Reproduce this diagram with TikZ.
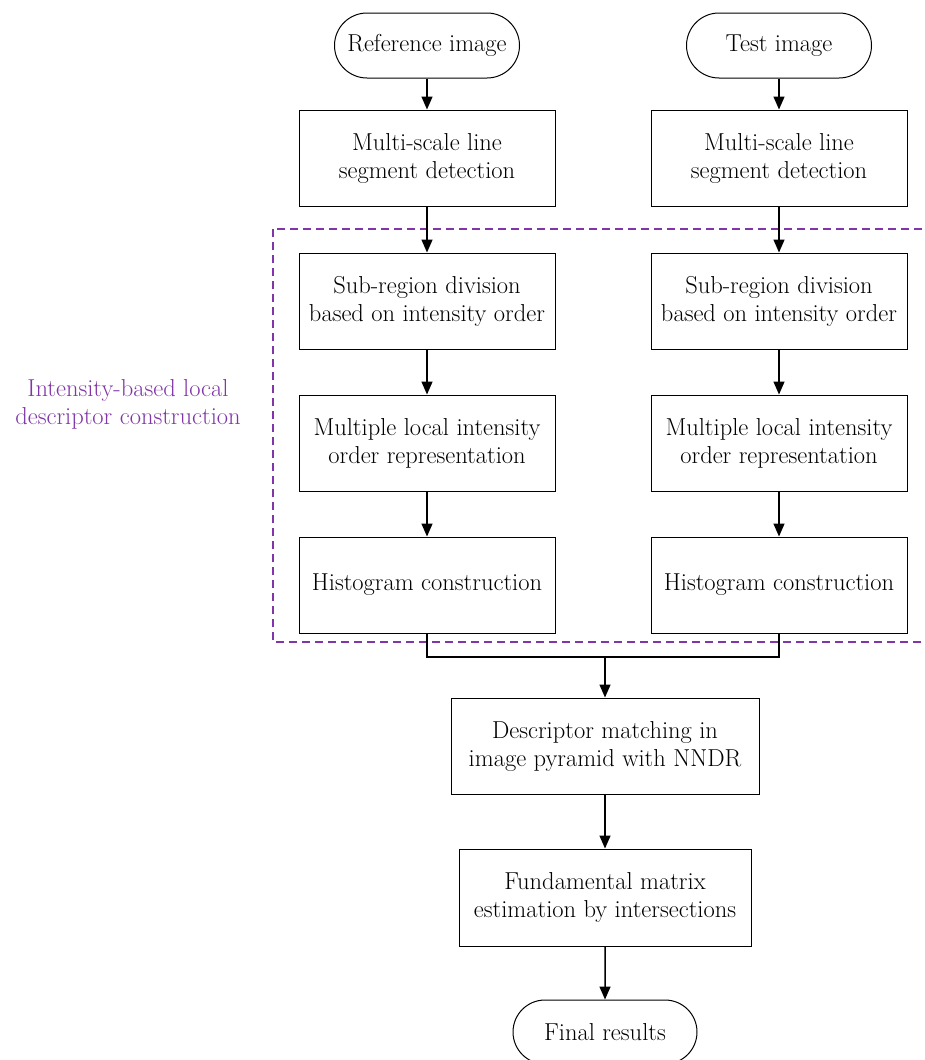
\documentclass[tikz,border=0pt]{standalone}
\usetikzlibrary{arrows.meta,shapes.misc}
\definecolor{grpurple}{HTML}{8035A8}
\begin{document}
\begin{tikzpicture}[x=1pt,y=-1pt,
  every node/.style={font=\fontsize{24.5}{28}\selectfont, align=center, inner sep=0pt},
  procbox/.style={draw=black, line width=1pt, rectangle, minimum height=96pt},
  colbox/.style={procbox, minimum width=256pt},
  termbox/.style={draw=black, line width=1pt, rounded rectangle, minimum width=185pt, minimum height=65pt},
  flow/.style={line width=1.5pt, -{Triangle[length=13pt,width=11pt]}},
  plain/.style={line width=1.5pt}
]
\useasboundingbox (0,0) rectangle (924,1060);
\clip (0,0) rectangle (924,1060);

% dashed group
\draw[grpurple, line width=1.8pt, dash pattern=on 8pt off 5pt] (273,229) rectangle (945,642);
\node[text=grpurple] (grplabel) at (128,404) {Intensity-based local\\descriptor construction};

% terminals
\node[termbox] (ref) at (427,45.5) {Reference image};
\node[termbox] (test) at (779,45.5) {Test image};

% left column
\node[colbox] (ms1) at (427,158) {Multi-scale line\\segment detection};
\node[colbox] (sr1) at (427,301) {Sub-region division\\based on intensity order};
\node[colbox] (ml1) at (427,443) {Multiple local intensity\\order representation};
\node[colbox] (hc1) at (427,585) {Histogram construction};

% right column
\node[colbox] (ms2) at (779,158) {Multi-scale line\\segment detection};
\node[colbox] (sr2) at (779,301) {Sub-region division\\based on intensity order};
\node[colbox] (ml2) at (779,443) {Multiple local intensity\\order representation};
\node[colbox] (hc2) at (779,585) {Histogram construction};

% lower chain
\node[procbox, minimum width=308pt] (desc) at (605,746) {Descriptor matching in\\image pyramid with NNDR};
\node[procbox, minimum width=292pt, minimum height=97pt] (fund) at (605,897.5) {Fundamental matrix\\estimation by intersections};
\node[termbox, minimum width=184pt, minimum height=64pt] (final) at (605,1032) {Final results};

\coordinate (mergeL) at (427,657);
\coordinate (mergeR) at (779,657);
\coordinate (mergeM) at (605,657);

% connectors
\draw[flow] (ref) -- (ms1);
\draw[flow] (test) -- (ms2);
\draw[flow] (ms1) -- (sr1);
\draw[flow] (ms2) -- (sr2);
\draw[flow] (sr1) -- (ml1);
\draw[flow] (sr2) -- (ml2);
\draw[flow] (ml1) -- (hc1);
\draw[flow] (ml2) -- (hc2);
\draw[plain] (hc1.south) -- (mergeL) -- (mergeR) -- (hc2.south);
\draw[flow] (mergeM) -- (desc.north);
\draw[flow] (desc) -- (fund);
\draw[flow] (fund) -- (final);
\end{tikzpicture}
\end{document}
